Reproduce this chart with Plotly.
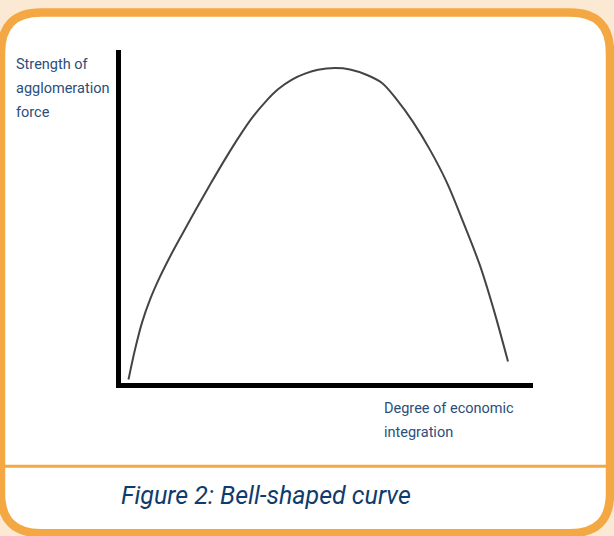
import plotly.graph_objects as go

# bell-shaped curve (axis units 0-100)
curve_x = [1.82, 3.40, 5.10, 7.04, 9.47, 11.89, 15.05, 18.45, 21.84, 25.49, 28.64, 31.80,
           34.95, 38.11, 41.50, 44.66, 47.82, 51.94, 55.58, 59.71, 63.35, 66.99, 70.87,
           75.00, 79.13, 83.01, 87.14, 90.53, 93.93]
curve_y = [1.05, 10.04, 18.14, 25.04, 31.93, 37.93, 45.13, 52.68, 60.03, 67.68, 73.91, 79.61,
           84.29, 88.19, 91.12, 92.89, 94.06, 94.57, 94.15, 92.50, 90.10, 85.01, 78.41,
           70.01, 60.12, 48.43, 35.23, 21.74, 6.45]

y_label_lines = ["Strength of", "agglomeration", "force"]
x_label_lines = ["Degree of economic", "integration"]
caption = "Figure 2: Bell-shaped curve"

W, H = 614, 536
L, R, T, B = 121, 81, 50, 152.5
ORANGE = "#f3a843"
CREAM = "#fce9d3"
BLUE = "#2a4e7a"
FONT = "Roboto, Liberation Sans, sans-serif"


def px(x):
    # pixel column -> paper x
    return (x - L) / (W - L - R)


def py(y):
    # pixel row -> paper y
    return (H - B - y) / (H - T - B)


def rounded_rect(x1, y1, x2, y2, r):
    pts = [
        ("M", [(x1 + r, y1)]), ("L", [(x2 - r, y1)]), ("Q", [(x2, y1), (x2, y1 + r)]),
        ("L", [(x2, y2 - r)]), ("Q", [(x2, y2), (x2 - r, y2)]), ("L", [(x1 + r, y2)]),
        ("Q", [(x1, y2), (x1, y2 - r)]), ("L", [(x1, y1 + r)]), ("Q", [(x1, y1), (x1 + r, y1)]),
    ]
    s = ""
    for cmd, coords in pts:
        s += cmd + " " + " ".join("%.5f,%.5f" % (px(a), py(b)) for a, b in coords) + " "
    return s + "Z"


fig = go.Figure()
fig.add_trace(go.Scatter(x=curve_x, y=curve_y, mode="lines",
                         line=dict(color="#444444", width=2, shape="spline", smoothing=1.0),
                         hoverinfo="skip", showlegend=False))

fig.update_xaxes(range=[0, 100], showline=True, linecolor="black", linewidth=5,
                 showgrid=False, zeroline=False, showticklabels=False, ticks="")
fig.update_yaxes(range=[0, 100], showline=True, linecolor="black", linewidth=5,
                 showgrid=False, zeroline=False, showticklabels=False, ticks="")

# frame, divider
fig.add_shape(type="path", xref="paper", yref="paper", layer="below",
              path=rounded_rect(1, 12.5, 610, 534, 40),
              line=dict(color=ORANGE, width=8.5), fillcolor="white")
fig.add_shape(type="line", xref="paper", yref="paper", layer="below",
              x0=px(5), x1=px(606), y0=py(467), y1=py(467),
              line=dict(color=ORANGE, width=3))

for i, t in enumerate(y_label_lines):
    fig.add_annotation(text=t, xref="paper", yref="paper", x=px(14), y=py(65 + 24 * i),
                       xanchor="left", yanchor="middle", showarrow=False,
                       font=dict(family=FONT, size=14.5, color=BLUE))
for i, t in enumerate(x_label_lines):
    fig.add_annotation(text=t, xref="paper", yref="paper", x=px(382), y=py(409 + 24 * i),
                       xanchor="left", yanchor="middle", showarrow=False,
                       font=dict(family=FONT, size=14.5, color=BLUE))
fig.add_annotation(text="<i>" + caption + "</i>", xref="paper", yref="paper",
                   x=px(266), y=py(496), xanchor="center", yanchor="middle", showarrow=False,
                   font=dict(family=FONT, size=25, color="#0e3c6c"))

fig.update_layout(width=W, height=H, margin=dict(l=L, r=R, t=T, b=B),
                  paper_bgcolor=CREAM, plot_bgcolor="rgba(0,0,0,0)")

# drop the page's default body margin so the figure sits at the window corner
fig.write_html("out.html", config={"displayModeBar": False},
               post_script="document.body.style.margin = '0';")
